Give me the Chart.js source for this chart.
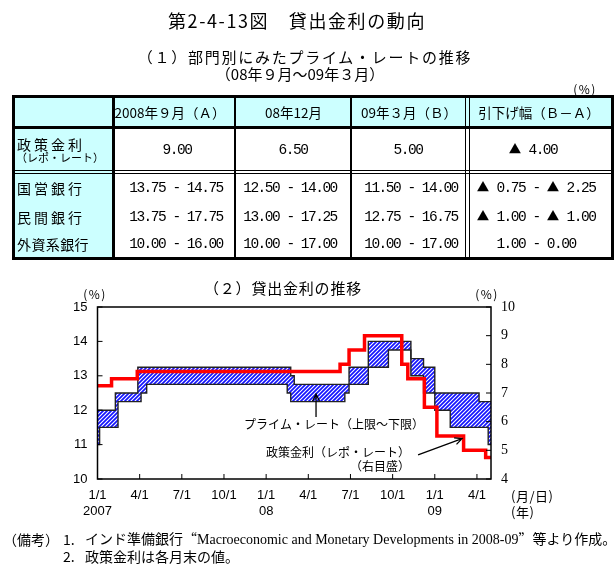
<!DOCTYPE html>
<html><head><meta charset="utf-8">
<script src="https://cdn.jsdelivr.net/npm/chart.js@4.4.1/dist/chart.umd.min.js"></script>
<style>
html,body{margin:0;padding:0;background:#fff;}
#wrap{position:relative;width:616px;height:567px;overflow:hidden;font-family:"Noto Sans CJK JP",sans-serif;color:#000;}
#cv{position:absolute;left:0;top:0;}
.t{position:absolute;white-space:nowrap;line-height:1;}
.c{transform:translate(-50%,-50%);}
.l{transform:translate(0,-50%);}
.r{transform:translate(-100%,-50%);}
.box{position:absolute;}
.mono{font-family:"Liberation Mono",monospace;font-size:14.5px;letter-spacing:-1.5px;}
.tri{font-family:"Noto Sans CJK JP",sans-serif;font-size:12.5px;letter-spacing:0;}
.serif{font-family:"Liberation Serif",serif;}
.fw{font-feature-settings:"fwid" 1;}
</style></head><body><div id="wrap"><canvas id="cv" width="616" height="567"></canvas></div>
<script>
// ---------- data ----------
const X_TICKS = [0, 3, 6, 9, 12, 15, 18, 21, 24, 27];           // months from 2007-01-01
const X_TICK_LABELS = ['1/1','4/1','7/1','10/1','1/1','4/1','7/1','10/1','1/1','4/1'];
const X_YEAR_LABELS = ['2007','','','','08','','','','09',''];
const Y_LEFT_TICKS = [10, 11, 12, 13, 14, 15];
const Y_RIGHT_TICKS = [4, 5, 6, 7, 8, 9, 10];

// prime rate band (left axis, %) : value holds from x until next x
const PRIME_UPPER_X = [0, 1.27, 2.87, 13.75, 14.0, 17.9, 19.27, 22.3, 23.2, 24.0, 27.15, 28];
const PRIME_UPPER   = [12.0, 12.5, 13.25, 13.0, 12.75, 13.25, 14.0, 13.5, 13.25, 12.5, 12.25, 12.25];
const PRIME_LOWER_X = [0, 0.15, 1.46, 3.1, 3.5, 13.5, 13.75, 17.6, 17.9, 19.27, 20.7, 22.3, 23.2, 24.0, 25.1, 27.8, 28];
const PRIME_LOWER   = [11.0, 11.5, 12.25, 12.5, 12.75, 12.5, 12.25, 12.5, 12.75, 13.25, 13.75, 13.0, 12.5, 12.0, 11.5, 11.0, 11.0];
// policy (repo) rate (right axis, %)
const REPO_X = [0, 1.0, 2.83, 17.26, 17.9, 19.0, 21.65, 22.08, 23.26, 24.15, 26.05, 27.62, 28];
const REPO   = [7.25, 7.5, 7.75, 8.0, 8.5, 9.0, 8.0, 7.5, 6.5, 5.5, 5.0, 4.75, 4.75];

// table (1)
const TABLE_HEAD = ['2008年９月（Ａ）', '08年12月', '09年３月（Ｂ）', '引下げ幅（Ｂ－Ａ）'];
const POLICY_LABEL = '政策金利';
const POLICY_SUB = '（レポ・レート）';
const POLICY_VALUES = ['9.00', '6.50', '5.00', '▲ 4.00'];
const BANK_LABELS = ['国営銀行', '民間銀行', '外資系銀行'];
const BANK_VALUES = [
  ['13.75 - 14.75', '12.50 - 14.00', '11.50 - 14.00', '▲ 0.75 - ▲ 2.25'],
  ['13.75 - 17.75', '13.00 - 17.25', '12.75 - 16.75', '▲ 1.00 - ▲ 1.00'],
  ['10.00 - 16.00', '10.00 - 17.00', '10.00 - 17.00', '1.00 - 0.00']
];

// ---------- page text & table ----------
const wrap = document.getElementById('wrap');
function box(l, t, w, h, bg) {
  const d = document.createElement('div'); d.className = 'box';
  Object.assign(d.style, {left: l + 'px', top: t + 'px', width: w + 'px', height: h + 'px', background: bg});
  wrap.appendChild(d); return d;
}
function txt(s, x, y, cls, style) {
  const d = document.createElement('div'); d.className = 't ' + cls;
  if (s.indexOf('▲') >= 0) d.innerHTML = s.split('▲').join('<span class="tri">▲</span>');
  else d.textContent = s;
  d.style.left = x + 'px'; d.style.top = y + 'px';
  Object.assign(d.style, style || {});
  wrap.appendChild(d); return d;
}

txt('第2-4-13図　貸出金利の動向', 297, 20, 'c', {fontSize: '18px', letterSpacing: '1.6px'});
txt('（１）部門別にみたプライム・レートの推移', 305, 56, 'c', {fontSize: '15px', letterSpacing: '1.75px'});
txt('（08年９月～09年３月）', 300, 72.5, 'c', {fontSize: '15px'});
txt('(%)', 585, 89, 'c', {fontSize: '12px', letterSpacing: '1.5px'});

// table geometry
const T_L = 12, T_R = 614, T_T = 95, T_B = 260;
const COL_CENTERS = [[170, 177, 176], [293.5, 293, 290], [409, 408, 411], [539, 533, 536]];
box(T_L, T_T, T_R - T_L, 32, '#ccffff');
box(T_L, T_T, 101, T_B - T_T, '#ccffff');
const ob = box(T_L, T_T, T_R - T_L, T_B - T_T, 'transparent');
ob.style.border = '3px solid #000'; ob.style.boxSizing = 'border-box';
box(T_L, 126, T_R - T_L, 3, '#000');           // under header
box(112, T_T, 3, T_B - T_T, '#000');           // col1|col2
box(234, T_T, 2, T_B - T_T, '#000');
box(349.5, T_T, 2, T_B - T_T, '#000');
box(465, T_T, 1, T_B - T_T, '#000');
box(468.5, T_T, 1, T_B - T_T, '#000');
box(T_L, 170, T_R - T_L, 1, '#000');
box(T_L, 173, T_R - T_L, 1, '#000');

TABLE_HEAD.forEach((h, i) => txt(h, COL_CENTERS[i][0], 113, 'c', {fontSize: '13.5px'}));
txt(POLICY_LABEL, 17, 143.5, 'l', {fontSize: '14px', letterSpacing: '3px'});
txt(POLICY_SUB, 16, 157, 'l', {fontSize: '11px'});
POLICY_VALUES.forEach((v, i) => txt(v, COL_CENTERS[i][1], 150, 'c mono'));
const ROW_Y = [188, 216.5, 244];
BANK_LABELS.forEach((b, r) => {
  txt(b, 17, ROW_Y[r], 'l', {fontSize: '14px', letterSpacing: b.length > 4 ? '0.4px' : '3px'});
  BANK_VALUES[r].forEach((v, i) => txt(v, COL_CENTERS[i][2], ROW_Y[r], 'c mono'));
});

// chart titles
txt('（２）貸出金利の推移', 283, 287, 'c', {fontSize: '15px', letterSpacing: '0.8px'});
txt('(%)', 95, 294, 'c', {fontSize: '12px', letterSpacing: '1.5px'});
txt('(%)', 487, 294, 'c', {fontSize: '12px', letterSpacing: '1.5px'});
txt('(月/日)', 511, 495, 'l', {fontSize: '13px', letterSpacing: '0.5px'});
txt('(年)', 511, 511, 'l', {fontSize: '13px', letterSpacing: '0.5px'});

// footnotes
txt('（備考）', 3, 539, 'l', {fontSize: '14px'});
txt('1.', 63, 539, 'l', {fontSize: '14px'});
const f1 = txt('', 85, 539, 'l', {fontSize: '14px'});
f1.innerHTML = 'インド準備銀行<span class="fw">“</span><span class="serif">Macroeconomic and Monetary Developments in 2008-09</span><span class="fw">”</span>等より作成。';
txt('2.', 63, 556, 'l', {fontSize: '14px'});
txt('政策金利は各月末の値。', 85, 556, 'l', {fontSize: '14px'});

// ---------- chart ----------
const NOTE_PRIME = {text: 'プライム・レート（上限～下限）', x: 16.83, y: 11.6};
const NOTE_REPO = [{text: '政策金利（レポ・レート）', x: 22.24, y: 10.77}, {text: '（右目盛）', x: 22.24, y: 10.36}];
const ARROW_PRIME = {x0: 15.55, y0: 11.80, x1: 15.55, y1: 12.47, axis: 'y'};
const ARROW_REPO = {x0: 22.81, y0: 4.84, x1: 25.94, y1: 5.41, axis: 'y1'};

const pc = document.createElement('canvas'); pc.width = 4; pc.height = 4;
const pctx = pc.getContext('2d');
pctx.fillStyle = '#1414ff'; pctx.fillRect(0, 0, 4, 4);
pctx.strokeStyle = '#ffffff'; pctx.lineWidth = 1.1;
pctx.beginPath();
pctx.moveTo(0, 4); pctx.lineTo(4, 0);
pctx.moveTo(-1, 1); pctx.lineTo(1, -1);
pctx.moveTo(3, 5); pctx.lineTo(5, 3);
pctx.stroke();
const ctx = document.getElementById('cv').getContext('2d');
const hatch = ctx.createPattern(pc, 'repeat');

const toPts = (xs, ys) => xs.map((x, i) => ({x: x, y: ys[i]}));

function drawArrow(c, x0, y0, x1, y1) {
  c.beginPath(); c.moveTo(x0, y0); c.lineTo(x1, y1);
  const a = Math.atan2(y1 - y0, x1 - x0), L = 8, s = 0.45;
  c.moveTo(x1 - L * Math.cos(a - s), y1 - L * Math.sin(a - s));
  c.lineTo(x1, y1);
  c.lineTo(x1 - L * Math.cos(a + s), y1 - L * Math.sin(a + s));
  c.stroke();
}

const framePlugin = {
  id: 'frame',
  afterDatasetsDraw(chart) {
    const c = chart.ctx, a = chart.chartArea, sx = chart.scales.x, sy = chart.scales.y, sy1 = chart.scales.y1;
    c.save();
    c.strokeStyle = '#000'; c.lineWidth = 1.5;
    c.strokeRect(a.left, a.top, a.right - a.left, a.bottom - a.top);
    c.lineWidth = 1;
    c.beginPath();
    sy.ticks.forEach(t => { const p = sy.getPixelForValue(t.value); c.moveTo(a.left, p); c.lineTo(a.left + 5, p); });
    sy1.ticks.forEach(t => { const p = sy1.getPixelForValue(t.value); c.moveTo(a.right, p); c.lineTo(a.right - 5, p); });
    sx.ticks.forEach(t => { const p = sx.getPixelForValue(t.value); c.moveTo(p, a.bottom); c.lineTo(p, a.bottom - 5); });
    c.stroke();
    c.lineWidth = 1.3;
    [ARROW_PRIME, ARROW_REPO].forEach(ar => {
      const ys = chart.scales[ar.axis];
      drawArrow(c, sx.getPixelForValue(ar.x0), ys.getPixelForValue(ar.y0), sx.getPixelForValue(ar.x1), ys.getPixelForValue(ar.y1));
    });
    c.fillStyle = '#000';
    c.font = '12px "Noto Sans CJK JP"';
    c.textBaseline = 'middle';
    c.textAlign = 'center';
    c.fillText(NOTE_PRIME.text, sx.getPixelForValue(NOTE_PRIME.x), sy.getPixelForValue(NOTE_PRIME.y));
    c.textAlign = 'right';
    NOTE_REPO.forEach(n => c.fillText(n.text, sx.getPixelForValue(n.x), sy.getPixelForValue(n.y)));
    c.restore();
  }
};

new Chart(ctx, {
  type: 'line',
  data: {
    datasets: [
      {label: '政策金利（レポ・レート）', data: toPts(REPO_X, REPO), yAxisID: 'y1', stepped: true,
       borderColor: '#ff0000', borderWidth: 3.5, pointRadius: 0, fill: false, borderJoinStyle: 'miter'},
      {label: 'プライム・レート上限', data: toPts(PRIME_UPPER_X, PRIME_UPPER), yAxisID: 'y', stepped: true,
       borderColor: '#222', borderWidth: 1.4, pointRadius: 0, fill: false},
      {label: 'プライム・レート下限', data: toPts(PRIME_LOWER_X, PRIME_LOWER), yAxisID: 'y', stepped: true,
       borderColor: '#222', borderWidth: 1.4, pointRadius: 0, fill: '-1', backgroundColor: hatch}
    ]
  },
  options: {
    responsive: false, animation: false, events: [],
    layout: {padding: {left: 0, top: 307, right: 85, bottom: 48}},
    plugins: {legend: {display: false}, tooltip: {enabled: false}, filler: {drawTime: 'beforeDatasetsDraw'}},
    scales: {
      x: {
        type: 'linear', min: 0, max: 28,
        afterBuildTicks: s => { s.ticks = X_TICKS.map(v => ({value: v})); },
        afterFit: s => { s.height = 40; },
        grid: {display: false, drawTicks: false}, border: {display: false},
        ticks: {
          autoSkip: false, maxRotation: 0, padding: 8, color: '#000',
          font: {family: '"Liberation Sans", Arial', size: 13, lineHeight: '16px'},
          callback: v => { const i = X_TICKS.indexOf(v); return X_YEAR_LABELS[i] ? [X_TICK_LABELS[i], X_YEAR_LABELS[i]] : X_TICK_LABELS[i]; }
        }
      },
      y: {
        type: 'linear', position: 'left', min: 10, max: 15,
        afterBuildTicks: s => { s.ticks = Y_LEFT_TICKS.map(v => ({value: v})); },
        afterFit: s => { s.width = 97.5; },
        grid: {display: false, drawTicks: false}, border: {display: false},
        ticks: {padding: 10, color: '#000', font: {family: '"Liberation Sans", Arial', size: 13}, callback: v => String(v)}
      },
      y1: {
        type: 'linear', position: 'right', min: 4, max: 10,
        afterBuildTicks: s => { s.ticks = Y_RIGHT_TICKS.map(v => ({value: v})); },
        afterFit: s => { s.width = 40; },
        grid: {display: false, drawTicks: false}, border: {display: false},
        ticks: {padding: 10, color: '#000', font: {family: '"Liberation Serif", serif', size: 14}, callback: v => String(v)}
      }
    }
  },
  plugins: [framePlugin]
});
</script></body></html>
